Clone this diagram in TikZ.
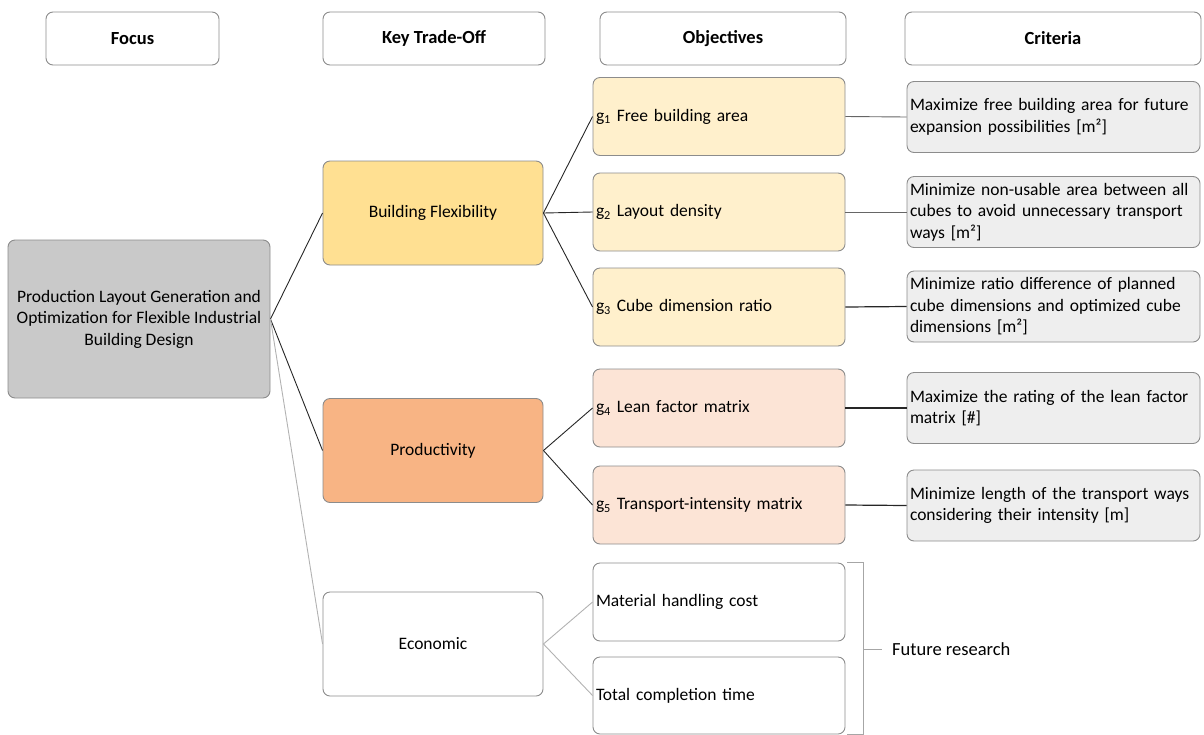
\documentclass[tikz,border=0pt]{standalone}
\usepackage{fontspec}
\setmainfont{Carlito}
\definecolor{grisfond}{RGB}{201,201,201}
\definecolor{flexfond}{RGB}{255,224,146}
\definecolor{prodfond}{RGB}{248,180,132}
\definecolor{objjaune}{RGB}{255,240,204}
\definecolor{objrose}{RGB}{252,228,214}
\definecolor{critfond}{RGB}{238,238,238}
\begin{document}
\begin{tikzpicture}[x=1pt,y=-1pt,
  boite/.style={draw=black!45,line width=0.9pt,rounded corners=7pt,inner sep=3pt,font=\fontsize{17.5}{21.5}\selectfont},
  entete/.style={boite,fill=white,minimum height=53pt,font=\fontsize{18.5}{22}\selectfont\bfseries},
  axe/.style={boite,minimum width=220pt,minimum height=104pt,align=center},
  objectif/.style={boite,text width=246pt,align=left,minimum height=78pt},
  critere/.style={boite,fill=critfond,text width=287pt,align=left,minimum height=71pt},
  lien/.style={black!85,line width=0.9pt},
  lienclair/.style={black!30,line width=0.9pt},
  accolade/.style={black!35,line width=0.8pt}]
\useasboundingbox(0,0)rectangle(1204,734);
% En-têtes
\node[entete,minimum width=173pt](hfocus)at(132.5,38.5){Focus};
\node[entete,minimum width=222pt](htradeoff)at(434,38.5){Key Trade-Off};
\node[entete,minimum width=246pt](hobjectifs)at(723,38.5){Objectives};
\node[entete,minimum width=296pt](hcriteres)at(1053,38.5){Criteria};
% Focus et compromis
\node[boite,fill=grisfond,minimum width=262pt,minimum height=158pt,align=center](focus)at(139,319){Production Layout Generation and\\Optimization for Flexible Industrial\\Building Design};
\node[axe,fill=flexfond](flex)at(433,213){Building Flexibility};
\node[axe,fill=prodfond](prod)at(433,450.5){Productivity};
\node[axe,fill=white](eco)at(433,644){Economic};
% Objectifs
\node[objectif,fill=objjaune](g1)at(719,116.5){g\textsubscript{1} Free building area};
\node[objectif,fill=objjaune](g2)at(719,212){g\textsubscript{2} Layout density};
\node[objectif,fill=objjaune](g3)at(719,307){g\textsubscript{3} Cube dimension ratio};
\node[objectif,fill=objrose](g4)at(719,408){g\textsubscript{4} Lean factor matrix};
\node[objectif,fill=objrose](g5)at(719,505){g\textsubscript{5} Transport-intensity matrix};
\node[objectif,fill=white](cout)at(719,602){Material handling cost};
\node[objectif,fill=white,minimum height=77pt](temps)at(719,695.5){Total completion time};
% Critères
\node[critere](c1)at(1053.5,117){Maximize free building area for future\\expansion possibilities [m²]};
\node[critere](c2)at(1053.5,212){Minimize non-usable area between all\\cubes to avoid unnecessary transport\\ways [m²]};
\node[critere](c3)at(1053.5,306.5){Minimize ratio difference of planned\\cube dimensions and optimized cube\\dimensions [m²]};
\node[critere](c4)at(1053.5,408){Maximize the rating of the lean factor\\matrix [\#]};
\node[critere](c5)at(1053.5,505.5){Minimize length of the transport ways\\considering their intensity [m]};
% Liaisons
\draw[lien](focus.east)--(flex.west);
\draw[lien](focus.east)--(prod.west);
\draw[lienclair](focus.east)--(eco.west);
\foreach \g in {g1,g2,g3}{\draw[lien](flex.east)--(\g.west);}
\foreach \g in {g4,g5}{\draw[lien](prod.east)--(\g.west);}
\foreach \g in {cout,temps}{\draw[lienclair](eco.east)--(\g.west);}
\draw[lien,black!60](g1.east)--(c1.west);
\draw[lien,black!60](g2.east)--(c2.west);
\foreach \i in {3,4,5}{\draw[lien,line width=1.2pt](g\i.east)--(c\i.west);}
% Travaux futurs
\node[anchor=west,inner sep=0pt,font=\fontsize{18.5}{22}\selectfont](futur)at(892,649){Future research};
\coordinate(pointe)at(863,649);
\draw[accolade]([xshift=2pt]cout.north east)-|([xshift=18pt]temps.south east)--([xshift=2pt]temps.south east);
\draw[accolade](pointe)--([xshift=-10pt]futur.west);
\end{tikzpicture}
\end{document}
